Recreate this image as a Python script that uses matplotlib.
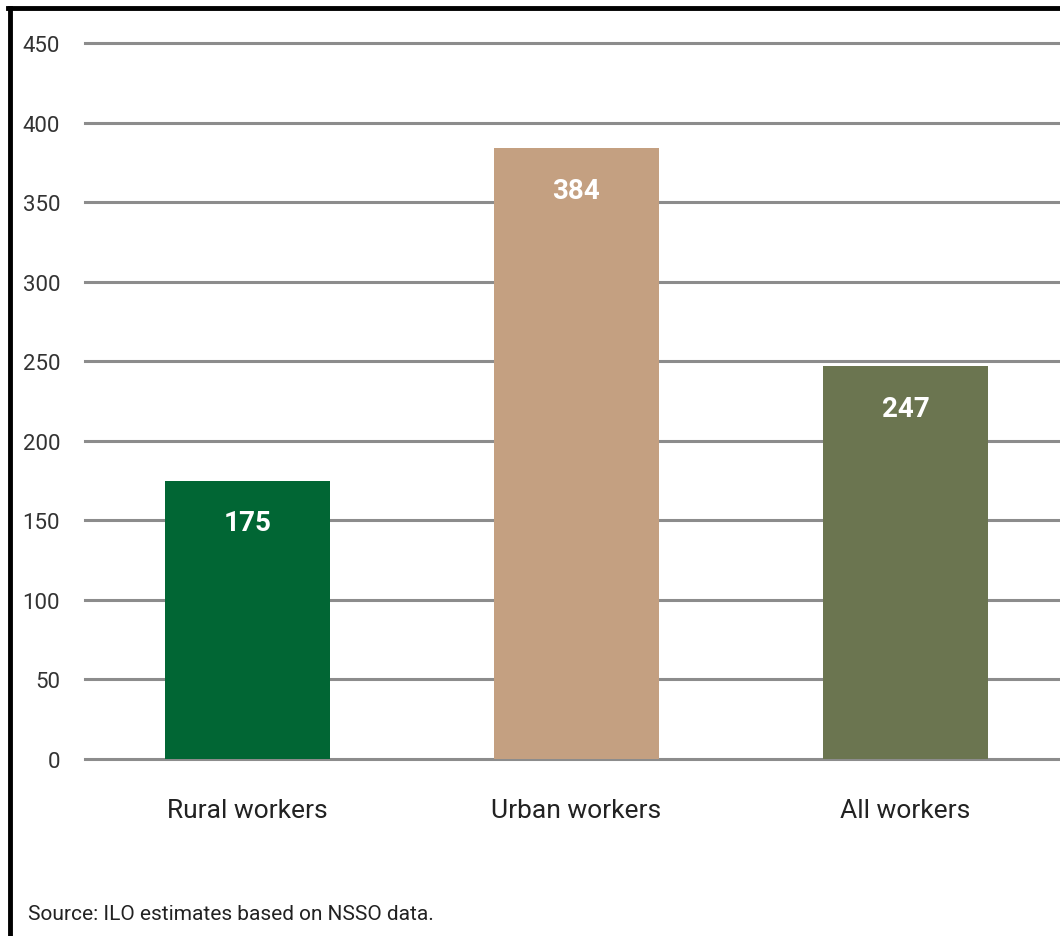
import matplotlib
matplotlib.use("Agg")
import matplotlib.pyplot as plt
from matplotlib.lines import Line2D

categories = ["Rural workers", "Urban workers", "All workers"]
values = [175, 384, 247]
colors = ["#016634", "#C4A081", "#6B7550"]
yticks = [0, 50, 100, 150, 200, 250, 300, 350, 400, 450]

plt.rcParams['font.family'] = ['Roboto', 'DejaVu Sans']

W, H = 1060, 937
fig = plt.figure(figsize=(W/100, H/100), dpi=100)
ax = fig.add_axes([85/W, (H-760)/H, 1-85/W, (760-44)/H])

x = list(range(len(categories)))
ax.set_xlim(-0.494, 2.47)
ax.set_ylim(0, 450)
for t in yticks:
    ax.axhline(t, color="#8c8c8c", lw=2.2, zorder=0, clip_on=False)
bars = ax.bar(x, values, width=0.5, color=colors, zorder=2)
for xi, v in zip(x, values):
    ax.text(xi, v - 18, str(v), ha="center", va="top", color="white",
            fontsize=20, fontweight="bold", zorder=3)

for s in ax.spines.values():
    s.set_visible(False)
ax.set_yticks(yticks)
ax.set_yticklabels([str(t) for t in yticks], fontsize=16, color="#333333")
ax.tick_params(axis="y", length=0, pad=18)
ax.set_xticks(x)
ax.set_xticklabels(categories, fontsize=19, color="#222222")
ax.tick_params(axis="x", length=0, pad=28)

fig.text(28/W, 1-915/H, "Source: ILO estimates based on NSSO data.",
         fontsize=15, color="#222222", va="center", ha="left")

fig.add_artist(Line2D([10/W, 10/W], [1-9/H, 0], color="black", lw=3.5,
                      transform=fig.transFigure))
fig.add_artist(Line2D([8/W, 1], [1-9/H, 1-9/H], color="black", lw=3.5,
                      transform=fig.transFigure))

fig.savefig("out.png", dpi=100)
